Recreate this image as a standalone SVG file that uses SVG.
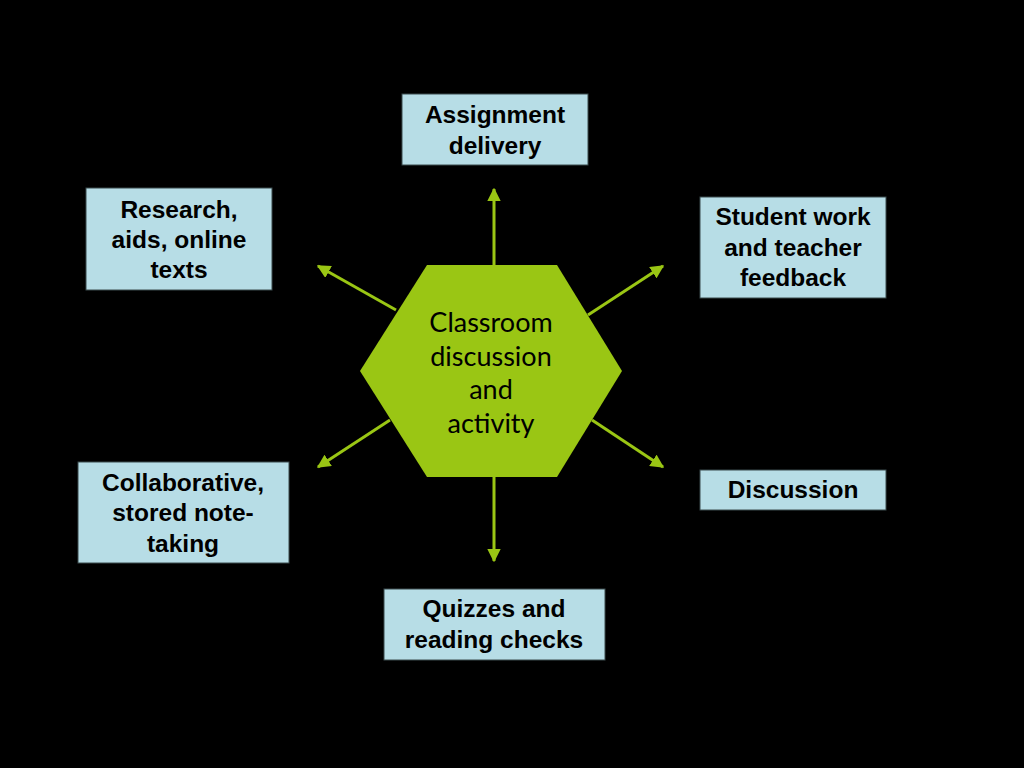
<svg xmlns="http://www.w3.org/2000/svg" width="1024" height="768" viewBox="0 0 1024 768">
<style>
.box{fill:#b7dde6;stroke:#3a4a4d;stroke-width:1}
.lbl{font-family:"Liberation Sans",Arial,sans-serif;font-weight:bold;font-size:24.5px;fill:#000;text-anchor:middle}
.ctr{font-family:Lato,"Open Sans",sans-serif;font-size:27px;fill:#000;text-anchor:middle}
.conn{stroke:#9ac614;stroke-width:3;fill:none}
</style>
<defs>
<marker id="ah" viewBox="0 0 10 10" refX="9" refY="5" markerWidth="4.5" markerHeight="4.5" orient="auto" markerUnits="strokeWidth">
<path d="M0,0 L10,5 L0,10 Z" fill="#9ac614"/>
</marker>
</defs>
<rect width="1024" height="768" fill="#000"/>
<g id="connectors">
<line class="conn" x1="494" y1="265" x2="494" y2="189" marker-end="url(#ah)"/>
<line class="conn" x1="494" y1="477" x2="494" y2="561" marker-end="url(#ah)"/>
<line class="conn" x1="396" y1="310" x2="318" y2="266" marker-end="url(#ah)"/>
<line class="conn" x1="588" y1="315" x2="663" y2="266" marker-end="url(#ah)"/>
<line class="conn" x1="390" y1="420" x2="318" y2="467" marker-end="url(#ah)"/>
<line class="conn" x1="592" y1="420" x2="663" y2="467" marker-end="url(#ah)"/>
</g>
<g id="center">
<polygon points="427,265 557,265 622,371 557,477 427,477 360,371" fill="#9ac614"/>
<text class="ctr" x="491" y="332">Classroom</text>
<text class="ctr" x="491" y="366">discussion</text>
<text class="ctr" x="491" y="399">and</text>
<text class="ctr" x="491" y="433">activity</text>
</g>
<g id="assignment">
<rect class="box" x="402" y="94" width="186" height="71"/>
<text class="lbl" x="495" y="123">Assignment</text>
<text class="lbl" x="495" y="154">delivery</text>
</g>
<g id="research">
<rect class="box" x="86" y="188" width="186" height="102"/>
<text class="lbl" x="179" y="218">Research,</text>
<text class="lbl" x="179" y="248">aids, online</text>
<text class="lbl" x="179" y="278">texts</text>
</g>
<g id="student">
<rect class="box" x="700" y="197" width="186" height="101"/>
<text class="lbl" x="793" y="225">Student work</text>
<text class="lbl" x="793" y="256">and teacher</text>
<text class="lbl" x="793" y="286">feedback</text>
</g>
<g id="collaborative">
<rect class="box" x="78" y="462" width="211" height="101"/>
<text class="lbl" x="183" y="491">Collaborative,</text>
<text class="lbl" x="183" y="521">stored note-</text>
<text class="lbl" x="183" y="552">taking</text>
</g>
<g id="discussion">
<rect class="box" x="700" y="470" width="186" height="40"/>
<text class="lbl" x="793" y="498">Discussion</text>
</g>
<g id="quizzes">
<rect class="box" x="384" y="589" width="221" height="71"/>
<text class="lbl" x="494" y="617">Quizzes and</text>
<text class="lbl" x="494" y="648">reading checks</text>
</g>
</svg>
